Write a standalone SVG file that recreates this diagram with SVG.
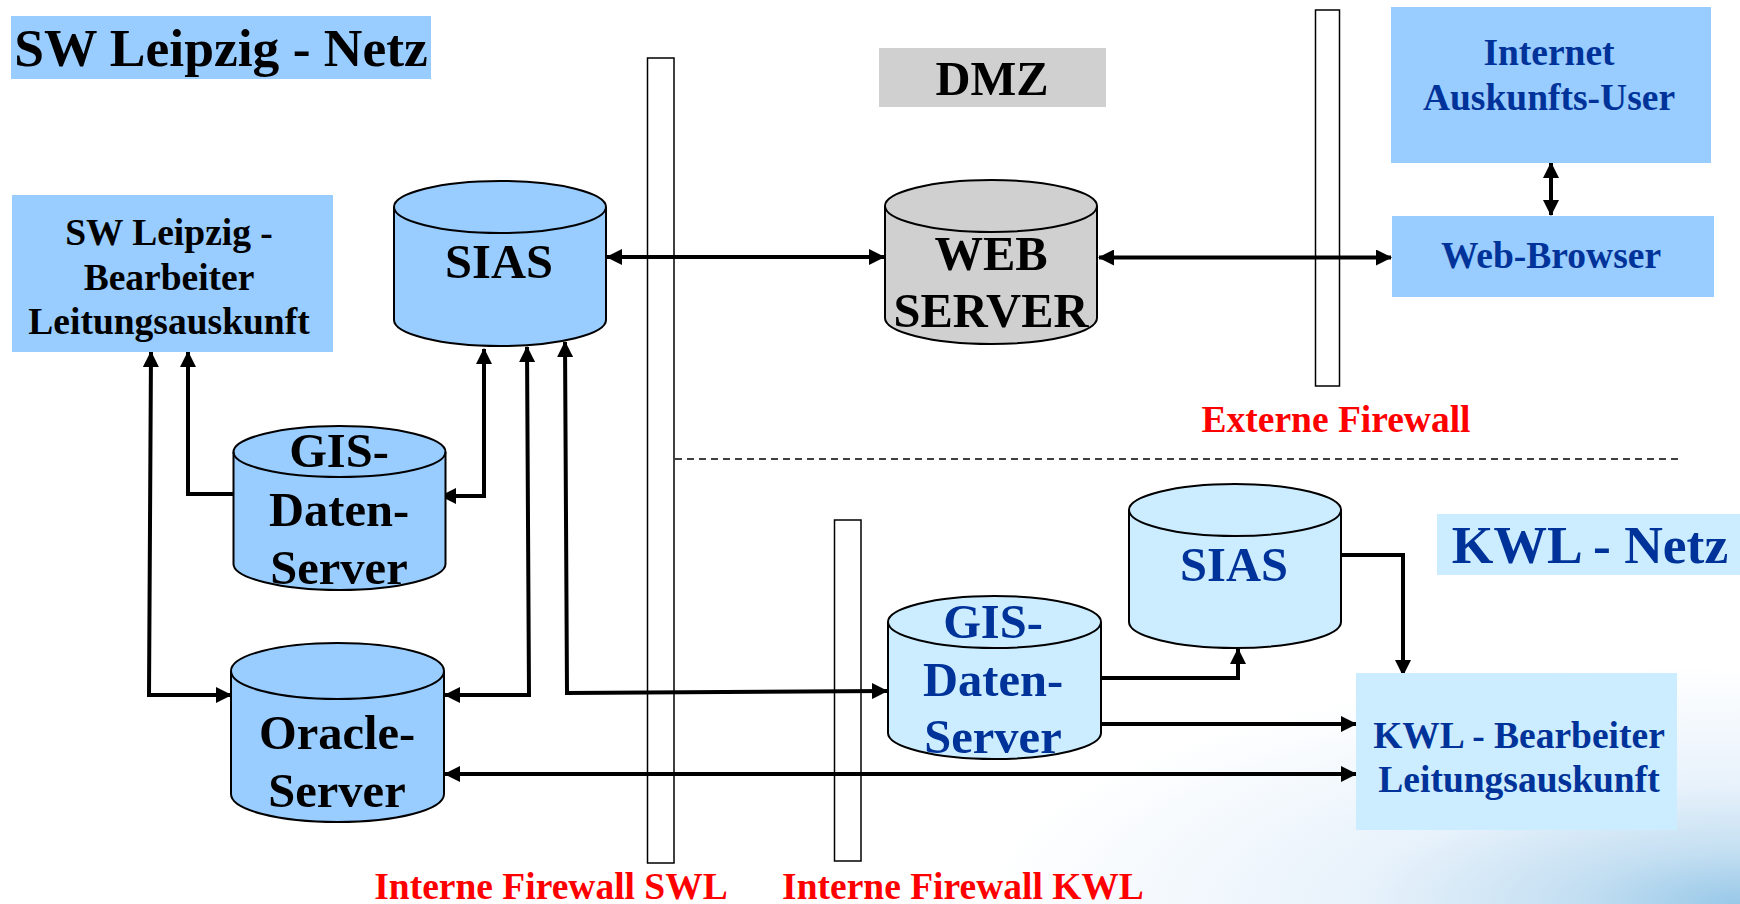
<svg xmlns="http://www.w3.org/2000/svg" width="1740" height="904" viewBox="0 0 1740 904">
<style>
text{font-family:"Liberation Serif","Times New Roman",serif;font-weight:bold;text-anchor:middle;fill:#000}
.blue{fill:#003399}.red{fill:#f00}
.fw{fill:#fff;stroke:#000;stroke-width:1.5}
.cyl{stroke:#000;stroke-width:2}
.a{fill:#99ccff}.b{fill:#ccecff}.g{fill:#d0d0d0}
.c{fill:none;stroke:#000;stroke-width:4}
.s48{font-size:48.500px}.s37{font-size:37.500px}.s53{font-size:53.500px}
</style>
<defs>
<radialGradient id="bg" gradientUnits="userSpaceOnUse" cx="0" cy="0" r="1" gradientTransform="translate(1740 904) scale(760 240)">
<stop offset="0" stop-color="#98c8e8"/><stop offset=".22" stop-color="#c4dff2"/><stop offset=".5" stop-color="#e8f2fb"/><stop offset="1" stop-color="#fff"/>
</radialGradient>
<marker id="h" viewBox="0 0 16 16" refX="15" refY="8" markerWidth="16" markerHeight="16" markerUnits="userSpaceOnUse" orient="auto-start-reverse"><path d="M0 0L16 8L0 16z" fill="#000"/></marker>
</defs>
<rect width="1740" height="904" fill="#fff"/>
<rect width="1740" height="904" fill="url(#bg)"/>

<g id="firewalls">
<rect class="fw" x="647.5" y="58" width="26.5" height="805"/>
<rect class="fw" x="834.5" y="520" width="26.5" height="341"/>
<rect class="fw" x="1315.5" y="10" width="24" height="376"/>
</g>
<line x1="675" y1="459" x2="1678" y2="459" stroke="#000" stroke-width="1.5" stroke-dasharray="7 5"/>

<g id="connectors">
<path class="c" d="M607 257H884" marker-start="url(#h)" marker-end="url(#h)"/>
<path class="c" d="M1099 257.500H1391" marker-start="url(#h)" marker-end="url(#h)"/>
<path class="c" d="M1551 163V215" marker-start="url(#h)" marker-end="url(#h)"/>
<path class="c" d="M151 352L149 695H231" marker-start="url(#h)" marker-end="url(#h)"/>
<path class="c" d="M233 494H188V352" marker-end="url(#h)"/>
<path class="c" d="M484 349V496H441" marker-start="url(#h)" marker-end="url(#h)"/>
<path class="c" d="M527 347L529 695H445" marker-start="url(#h)" marker-end="url(#h)"/>
<path class="c" d="M565 342L567 693L887 691" marker-start="url(#h)" marker-end="url(#h)"/>
<path class="c" d="M445 774H1356" marker-start="url(#h)" marker-end="url(#h)"/>
<path class="c" d="M1102 678H1238V649" marker-end="url(#h)"/>
<path class="c" d="M1102 724H1356" marker-end="url(#h)"/>
<path class="c" d="M1342 555H1403V675" marker-end="url(#h)"/>
</g>

<g id="title-swl"><rect class="a" x="11" y="16" width="420" height="63"/><text class="s53" x="221" y="66">SW Leipzig - Netz</text></g>
<g id="title-dmz"><rect class="g" x="879" y="48" width="227" height="59"/><text class="s48" x="992" y="95">DMZ</text></g>
<g id="title-kwl"><rect class="b" x="1437" y="514" width="303" height="61"/><text class="s53 blue" x="1590" y="563">KWL - Netz</text></g>

<g id="box-swl"><rect class="a" x="12" y="195" width="321" height="157"/>
<text class="s37" x="169" y="245">SW Leipzig -</text><text class="s37" x="169" y="290">Bearbeiter</text><text class="s37" x="169" y="334">Leitungsauskunft</text></g>
<g id="box-internet"><rect class="a" x="1391" y="7" width="320" height="156"/>
<text class="s37 blue" x="1549" y="65">Internet</text><text class="s37 blue" x="1549" y="110">Auskunfts-User</text></g>
<g id="box-browser"><rect class="a" x="1392" y="216" width="322" height="81"/><text class="s37 blue" x="1551" y="268">Web-Browser</text></g>
<g id="box-kwl"><rect class="b" x="1356" y="673" width="321" height="157"/>
<text class="s37 blue" x="1519" y="748">KWL - Bearbeiter</text><text class="s37 blue" x="1519" y="792">Leitungsauskunft</text></g>

<g id="cyl-sias"><path class="cyl a" d="M394 207C394 193 441 181 500 181S606 193 606 207V320C606 334 559 346 500 346S394 334 394 320Z"/><path class="cyl" fill="none" d="M394 207C394 221 441 233 500 233S606 221 606 207"/>
<text class="s48" x="499" y="278">SIAS</text></g>
<g id="cyl-web"><path class="cyl g" d="M885 206C885 192 932 180 991 180S1097 192 1097 206V318C1097 332 1050 344 991 344S885 332 885 318Z"/><path class="cyl" fill="none" d="M885 206C885 220 932 232 991 232S1097 220 1097 206"/>
<text class="s48" x="991" y="270">WEB</text><text class="s48" x="991" y="327">SERVER</text></g>
<g id="cyl-gis"><path class="cyl a" d="M233.500 452C233.500 438 281 426 339.500 426S445.500 438 445.500 452V564C445.500 578 398 590 339.500 590S233.500 578 233.500 564Z"/><path class="cyl" fill="none" d="M233.500 452C233.500 466 281 477 339.500 477S445.500 466 445.500 452"/>
<text class="s48" x="339" y="467">GIS-</text><text class="s48" x="339" y="526">Daten-</text><text class="s48" x="339" y="584">Server</text></g>
<g id="cyl-oracle"><path class="cyl a" d="M231 671C231 655 279 643 337.500 643S444 655 444 671V794C444 810 396 822 337.500 822S231 810 231 794Z"/><path class="cyl" fill="none" d="M231 671C231 687 279 699 337.500 699S444 687 444 671"/>
<text class="s48" x="337" y="749">Oracle-</text><text class="s48" x="337" y="807">Server</text></g>
<g id="cyl-gis-kwl"><path class="cyl b" d="M888 622C888 608 935 596 994.500 596S1101 608 1101 622V733C1101 747 1054 759 994.500 759S888 747 888 733Z"/><path class="cyl" fill="none" d="M888 622C888 636 935 648 994.500 648S1101 636 1101 622"/>
<text class="s48 blue" x="993" y="638">GIS-</text><text class="s48 blue" x="993" y="696">Daten-</text><text class="s48 blue" x="993" y="753">Server</text></g>
<g id="cyl-sias-kwl"><path class="cyl b" d="M1129 510C1129 496 1176 484 1235 484S1341 496 1341 510V622C1341 636 1294 648 1235 648S1129 636 1129 622Z"/><path class="cyl" fill="none" d="M1129 510C1129 524 1176 536 1235 536S1341 524 1341 510"/>
<text class="s48 blue" x="1234" y="581">SIAS</text></g>

<text class="s37 red" x="1336" y="432">Externe Firewall</text>
<text class="s37 red" x="551" y="899">Interne Firewall SWL</text>
<text class="s37 red" x="963" y="899">Interne Firewall KWL</text>
</svg>
